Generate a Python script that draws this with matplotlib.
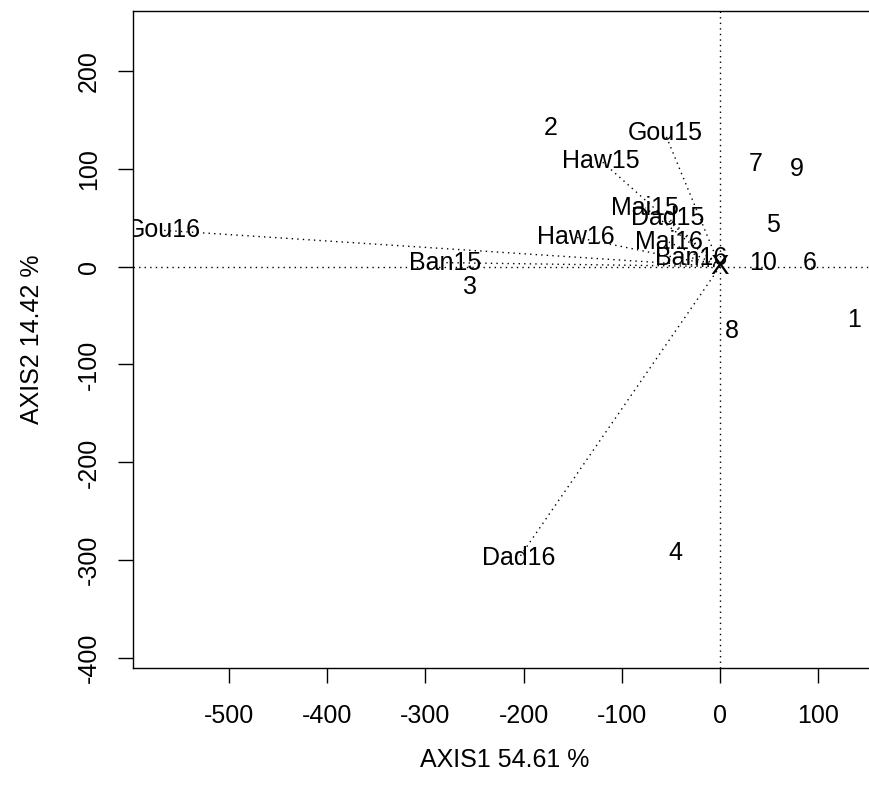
import numpy as np
import matplotlib
matplotlib.use('Agg')
import matplotlib.pyplot as plt

plt.rcParams['font.family'] = ['Liberation Sans', 'DejaVu Sans']
plt.rcParams['font.size'] = 18

# row scores (sites 1..10)
row_labels = ['1', '2', '3', '4', '5', '6', '7', '8', '9', '10']
row_x = [137, -172, -255, -45, 54, 91, 36, 12, 78, 44]
row_y = [-55, 142, -21, -293, 42, 4, 105, -66, 100, 4]

# column scores (variables), drawn as dotted arrows from origin
col_labels = ['Gou16', 'Ban15', 'Haw15', 'Gou15', 'Mai15', 'Dad15',
              'Haw16', 'Mai16', 'Ban16', 'Dad16']
col_x = [-567, -280, -121, -56, -76, -53, -147, -52, -29, -205]
col_y = [37, 4, 108, 136, 60, 50, 30, 25, 9, -298]

xticks = [-500, -400, -300, -200, -100, 0, 100]
yticks = [-400, -300, -200, -100, 0, 100, 200]

fig = plt.figure(figsize=(8.69, 7.94), dpi=100)
ax = fig.add_axes([133/869, 126/794, (877-133)/869, (668-11)/794])
ax.set_xlim(-598, 160)
ax.set_ylim(-410, 261)

dots = (0, (1, 3))
ax.axhline(0, color='black', lw=1, linestyle=dots)
ax.axvline(0, color='black', lw=1, linestyle=dots)

for lab, x, y in zip(col_labels, col_x, col_y):
    ax.plot([0, x], [0, y], color='black', lw=1, linestyle=dots)
    ax.text(x, y, lab, ha='center', va='center', clip_on=True)

for lab, x, y in zip(row_labels, row_x, row_y):
    ax.text(x, y, lab, ha='center', va='center', clip_on=True)

ax.text(0, 0, 'X', ha='center', va='center', fontsize=20, clip_on=True)

ax.set_xticks(xticks)
ax.set_yticks(yticks)
ax.set_xticklabels([str(t) for t in xticks])
ax.set_yticklabels([str(t) for t in yticks], rotation=90, va='center')
ax.tick_params(axis='both', direction='out', length=11, width=1, pad=15)
ax.tick_params(axis='y', pad=12)
for s in ax.spines.values():
    s.set_linewidth(1)

ax.set_xlabel('AXIS1 54.61 %', labelpad=14)
ax.set_ylabel('AXIS2 14.42 %', labelpad=24)

fig.savefig('out.png', dpi=100)
